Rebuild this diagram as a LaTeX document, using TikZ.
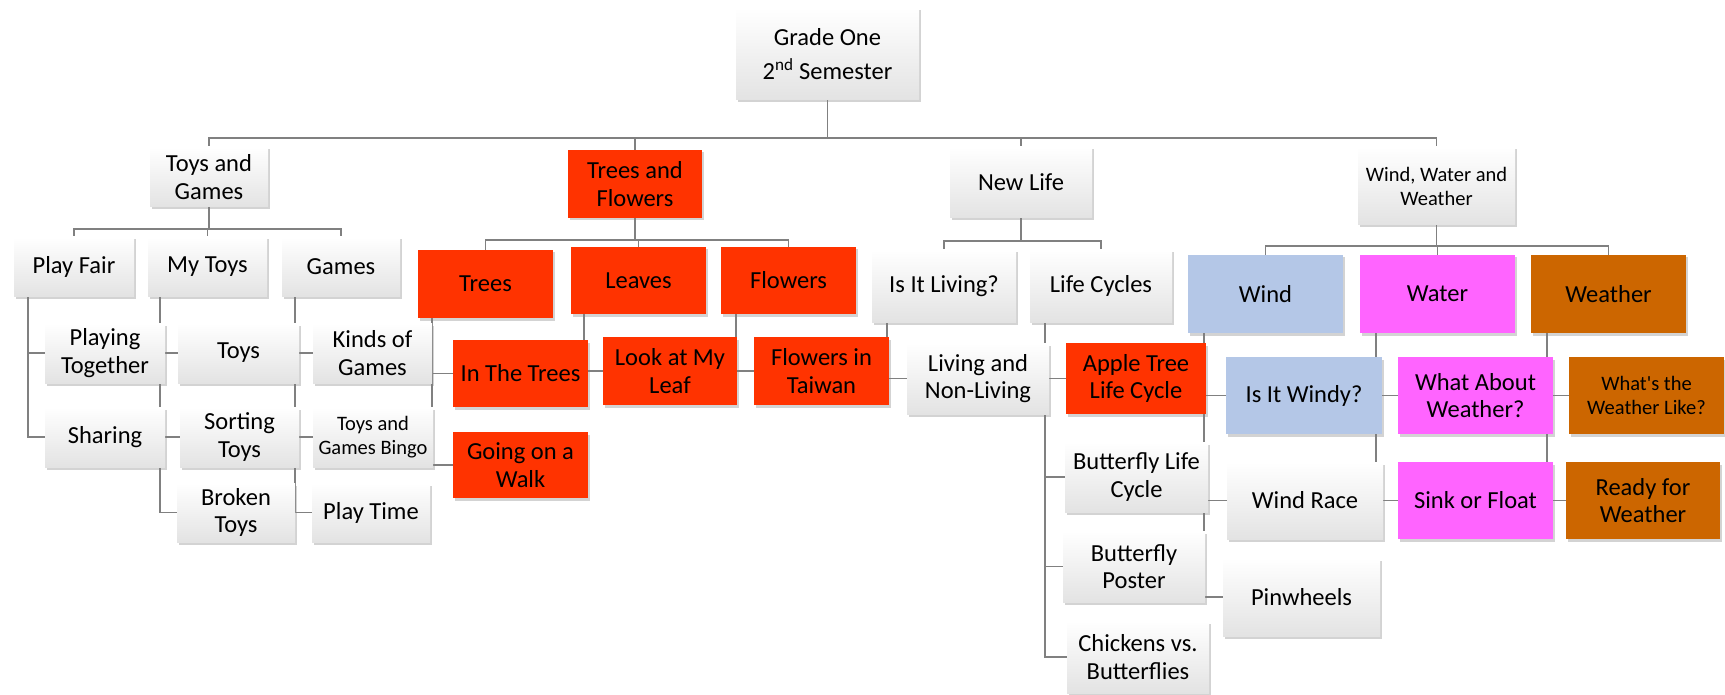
\documentclass[tikz,border=0pt]{standalone}
\usepackage{fontspec}
\setmainfont{Carlito}
\usetikzlibrary{shadows, backgrounds}
\definecolor{linegray}{RGB}{128,128,128}
\definecolor{treered}{RGB}{255,51,0}
\definecolor{windblue}{RGB}{180,199,231}
\definecolor{waterpink}{RGB}{255,100,255}
\definecolor{weatherbrown}{RGB}{204,102,0}

\tikzset{
	box/.style={align=center, inner sep=2pt, font=\fontsize{24.5}{27.5}\selectfont,
		drop shadow={opacity=0.35, shadow xshift=1.5pt, shadow yshift=-2.5pt}},
	plainbox/.style={box, top color=white, middle color=white, bottom color=gray!22},
	redbox/.style={box, fill=treered},
	windbox/.style={box, fill=windblue},
	waterbox/.style={box, fill=waterpink},
	weatherbox/.style={box, fill=weatherbrown},
	sz/.style 2 args={minimum width=#1pt, minimum height=#2pt},
	smalltext/.style={font=\fontsize{20.5}{24}\selectfont},
	link/.style={draw=linegray, line width=1.5pt},
}

\begin{document}
\begin{tikzpicture}[x=1pt, y=-1pt]
		\useasboundingbox (0,0) rectangle (1725,695);
		
		% top
		\node [plainbox, sz={183}{92}] (root) at (827.5,54) {Grade One\\[7pt]2\textsuperscript{nd} Semester};
		
		\node [plainbox, sz={118}{60}] (tg) at (209,177) {Toys and\\Games};
		\node [redbox, sz={134}{68}] (tf) at (635,184) {Trees and\\Flowers};
		\node [plainbox, sz={142}{71}] (nl) at (1021,182.5) {New Life};
		\node [plainbox, sz={157}{78}, smalltext] (www) at (1436.5,186) {Wind, Water and\\Weather};
		
		% toys and games
		\node [plainbox, sz={120}{59}] (pf) at (74,266.5) {Play Fair};
		\node [plainbox, sz={119}{59}] (mt) at (207.5,266.5) {My Toys};
		\node [plainbox, sz={118}{59}] (ga) at (341,266.5) {Games};
		\node [plainbox, sz={120}{60}] (pt) at (105,353) {Playing\\Together};
		\node [plainbox, sz={120}{60}] (sh) at (105,437) {Sharing};
		\node [plainbox, sz={121}{60}] (ty) at (238.5,353) {Toys};
		\node [plainbox, sz={119}{60}] (st) at (239.5,437) {Sorting\\Toys};
		\node [plainbox, sz={118}{59}] (bt) at (236,512.5) {Broken\\Toys};
		\node [plainbox, sz={119}{60}] (kg) at (372.5,353) {Kinds of\\Games};
		\node [plainbox, sz={120}{60}, smalltext] (bingo) at (373,437) {Toys and\\Games Bingo};
		\node [plainbox, sz={118}{59}] (ptime) at (371,512.5) {Play Time};
		
		% trees and flowers
		\node [redbox, sz={135}{68}] (trees) at (485.5,284) {Trees};
		\node [redbox, sz={135}{67}] (leaves) at (638.5,280.5) {Leaves};
		\node [redbox, sz={135}{67}] (flowers) at (788.5,280.5) {Flowers};
		\node [redbox, sz={135}{67}] (intrees) at (520.5,373.5) {In The Trees};
		\node [redbox, sz={135}{66}] (walk) at (520.5,465) {Going on a\\Walk};
		\node [redbox, sz={134}{68}] (myleaf) at (670,371) {Look at My\\Leaf};
		\node [redbox, sz={135}{68}] (taiwan) at (821.5,371) {Flowers in\\Taiwan};
		
		% new life
		\node [plainbox, sz={144}{72}] (living) at (944,286) {Is It Living?};
		\node [plainbox, sz={142}{72}] (cycles) at (1101,286) {Life Cycles};
		\node [plainbox, sz={142}{71}] (nonliving) at (978,378.5) {Living and\\Non-Living};
		\node [redbox, sz={140}{71}] (apple) at (1136,378.5) {Apple Tree\\Life Cycle};
		\node [plainbox, sz={143}{70}] (bfcycle) at (1136.5,477) {Butterfly Life\\Cycle};
		\node [plainbox, sz={142}{71}] (poster) at (1134,566.5) {Butterfly\\Poster};
		\node [plainbox, sz={142}{72}] (chicken) at (1138,657) {Chickens vs.\\Butterflies};
		
		% wind, water and weather
		\node [windbox, sz={155}{78}] (wind) at (1265.5,294) {Wind};
		\node [waterbox, sz={155}{78}] (water) at (1437.5,294) {Water};
		\node [weatherbox, sz={155}{78}] (weather) at (1608.5,294) {Weather};
		\node [windbox, sz={156}{77}] (windy) at (1304,395.5) {Is It Windy?};
		\node [plainbox, sz={156}{77}] (race) at (1305,500.5) {Wind Race};
		\node [plainbox, sz={157}{78}] (pinwheel) at (1301.5,597) {Pinwheels};
		\node [waterbox, sz={155}{77}] (about) at (1475.5,395.5) {What About\\Weather?};
		\node [waterbox, sz={155}{77}] (sink) at (1475.5,500.5) {Sink or Float};
		\node [weatherbox, sz={155}{77}, smalltext] (like) at (1646.5,395.5) {What\textquotesingle s the\\Weather Like?};
		\node [weatherbox, sz={154}{77}] (ready) at (1643,500.5) {Ready for\\Weather};
		
		\begin{scope}[on background layer, every path/.style={link}]
			% buses
			\draw (root.south) -- ++(0,38) coordinate (rootbus);
			\foreach \c in {tg,tf,nl,www}
				\draw (rootbus) -| (\c.north);
			\draw (tg.south) -- ++(0,22) coordinate (tgbus);
			\foreach \c in {pf,mt,ga}
				\draw (tgbus) -| (\c.north);
			\draw (tf.south) -- ++(0,22) coordinate (tfbus);
			\foreach \c in {trees,leaves,flowers}
				\draw (tfbus) -| (\c.north);
			\draw (nl.south) -- ++(0,23) coordinate (nlbus);
			\foreach \c in {living,cycles}
				\draw (nlbus) -| (\c.north);
			\draw (www.south) -- ++(0,21) coordinate (wwwbus);
			\foreach \c in {wind,water,weather}
				\draw (wwwbus) -| (\c.north);
			
			% side lines
			\foreach \c in {pt,sh}
				\draw ([xshift=14pt]pf.south west) |- (\c.west);
			\foreach \c in {ty,st,bt}
				\draw ([xshift=12pt]mt.south west) |- (\c.west);
			\foreach \c in {kg,bingo,ptime}
				\draw ([xshift=13pt]ga.south west) |- (\c.west);
			\foreach \c in {intrees,walk}
				\draw ([xshift=14pt]trees.south west) |- (\c.west);
			\draw ([xshift=13pt]leaves.south west) |- (myleaf.west);
			\draw ([xshift=15pt]flowers.south west) |- (taiwan.west);
			\draw ([xshift=15pt]living.south west) |- (nonliving.west);
			\foreach \c in {apple,bfcycle,poster,chicken}
				\draw ([xshift=15pt]cycles.south west) |- (\c.west);
			\foreach \c in {windy,race,pinwheel}
				\draw ([xshift=16pt]wind.south west) |- (\c.west);
			\foreach \c in {about,sink}
				\draw ([xshift=16pt]water.south west) |- (\c.west);
			\foreach \c in {like,ready}
				\draw ([xshift=16pt]weather.south west) |- (\c.west);
		\end{scope}
	\end{tikzpicture}
\end{document}
